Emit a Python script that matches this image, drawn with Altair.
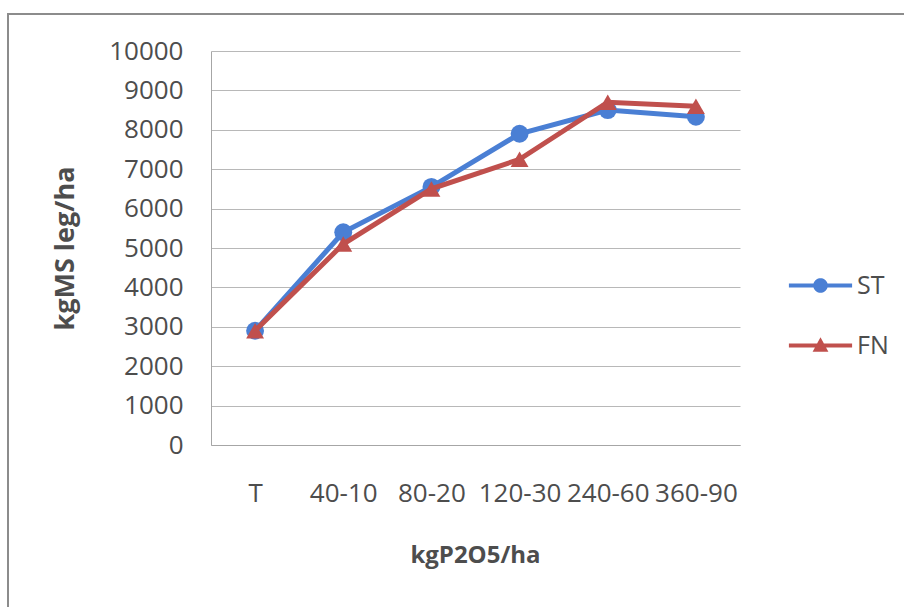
import math
import altair as alt
import pandas as pd

categories = ["T", "40-10", "80-20", "120-30", "240-60", "360-90"]
series_names = ["ST", "FN"]
st_values = [2900, 5400, 6550, 7900, 8500, 8330]
fn_values = [2900, 5100, 6500, 7250, 8700, 8600]
y_ticks = [0, 1000, 2000, 3000, 4000, 5000, 6000, 7000, 8000, 9000, 10000]

BLUE = "#4a7fd4"
RED = "#c0504d"
TXT = "#4d4d4d"
FONT = "Open Sans"

rows = []
for c, v in zip(categories, st_values):
    rows.append({"cat": c, "series": "ST", "value": v})
for c, v in zip(categories, fn_values):
    rows.append({"cat": c, "series": "FN", "value": v})
df = pd.DataFrame(rows)

x_enc = alt.X(
    "cat:N",
    sort=categories,
    scale=alt.Scale(padding=0.5),
    axis=alt.Axis(
        title="kgP2O5/ha",
        labelAngle=0,
        labelFont=FONT,
        labelFontSize=26,
        labelColor=TXT,
        labelPadding=35,
        labelOverlap=False,
        labelBound=False,
        labelFlush=False,
        ticks=False,
        grid=False,
        domainColor="#a6a6a6",
        domainWidth=1,
        titleFont=FONT,
        titleFontSize=24,
        titleFontWeight="bold",
        titleColor=TXT,
        titleX=264,
        titleY=110,
        titleBaseline="middle",
        titleAlign="center",
    ),
)
y_enc = alt.Y(
    "value:Q",
    scale=alt.Scale(domain=[0, 10000], nice=False),
    axis=alt.Axis(
        title="kgMS leg/ha",
        values=y_ticks,
        format="d",
        labelFont=FONT,
        labelFontSize=26,
        labelColor=TXT,
        labelPadding=28,
        ticks=False,
        grid=True,
        gridColor="#b8b8b8",
        gridWidth=1,
        domainColor="#a6a6a6",
        domainWidth=1,
        titleFont=FONT,
        titleFontSize=27,
        titleFontWeight="bold",
        titleColor=TXT,
        titleX=-146,
        titleY=197,
        titleAngle=-90,
        titleBaseline="middle",
        titleAlign="center",
    ),
)

color_scale = alt.Scale(domain=series_names, range=[BLUE, RED])
shape_scale = alt.Scale(domain=series_names, range=["circle", "triangle-up"])

base = alt.Chart(df)
layers = []
for s, size in [("ST", 320), ("FN", 320)]:
    sub = base.transform_filter(alt.datum.series == s)
    layers.append(
        sub.mark_line(strokeWidth=5).encode(
            x=x_enc, y=y_enc,
            color=alt.Color("series:N", scale=color_scale, legend=None),
        )
    )
    layers.append(
        sub.mark_point(filled=True, size=size, opacity=1).encode(
            x=x_enc, y=y_enc,
            color=alt.Color("series:N", scale=color_scale, legend=None),
            shape=alt.Shape("series:N", scale=shape_scale, legend=None),
        )
    )

# legend symbols: line + marker combined paths (unit = sqrt(size)/2 px)
L = 3.2
t = 0.2
r = 0.74
a = math.asin(t / r)
n = 16
top_pts = [
    (r * math.cos(math.pi + a + (math.pi - 2 * a) * i / n),
     r * math.sin(math.pi + a + (math.pi - 2 * a) * i / n))
    for i in range(n + 1)
]
bot_pts = [
    (r * math.cos(a + (math.pi - 2 * a) * i / n),
     r * math.sin(a + (math.pi - 2 * a) * i / n))
    for i in range(n + 1)
]
circle_line = f"M{-L},{-t}" + "".join(f"L{x:.4f},{y:.4f}" for x, y in top_pts)
circle_line += f"L{L},{-t}L{L},{t}" + "".join(f"L{x:.4f},{y:.4f}" for x, y in bot_pts)
circle_line += f"L{-L},{t}Z"

ty, by, hw = -0.84, 0.64, 0.8
def edge(y):
    return hw * (y - ty) / (by - ty)
tri_line = (
    f"M{-L},{-t}L{-edge(-t):.4f},{-t}L0,{ty}L{edge(-t):.4f},{-t}L{L},{-t}L{L},{t}"
    f"L{edge(t):.4f},{t}L{hw},{by}L{-hw},{by}L{-edge(t):.4f},{t}L{-L},{t}Z"
)

def make_legend():
    return alt.Legend(
        title=None,
        orient="none",
        legendX=597,
        legendY=222,
        symbolSize=390,
        symbolStrokeWidth=0,
        labelFont=FONT,
        labelFontSize=25,
        labelColor=TXT,
        labelOffset=24,
        rowPadding=34,
    )

legend_layer = (
    base.transform_filter("false")
    .transform_calculate(lg="datum.series")
    .mark_point(filled=True, opacity=1)
    .encode(
        x=x_enc,
        y=y_enc,
        color=alt.Color(
            "lg:N",
            scale=alt.Scale(domain=series_names, range=[BLUE, RED]),
            legend=make_legend(),
        ),
        shape=alt.Shape(
            "lg:N",
            scale=alt.Scale(domain=series_names, range=[circle_line, tri_line]),
            legend=make_legend(),
        ),
    )
)

frame_df = pd.DataFrame({"k": [0]})
frame_left = alt.Chart(frame_df).mark_rule(color="#8c8c8c", strokeWidth=2).encode(
    x=alt.value(-203), y=alt.value(-37), y2=alt.value(560)
)
frame_top = alt.Chart(frame_df).mark_rule(color="#8c8c8c", strokeWidth=2).encode(
    x=alt.value(-204), x2=alt.value(700), y=alt.value(-37)
)

chart = (
    alt.layer(*layers, legend_layer, frame_left, frame_top)
    .resolve_scale(color="independent", shape="independent")
    .properties(
        width=529,
        height=394,
        autosize=alt.AutoSizeParams(type="none"),
        padding={"left": 211, "top": 51, "right": 164, "bottom": 162},
        background="white",
    )
    .configure_view(stroke=None)
)

chart.save("out.html", embed_options={"renderer": "svg", "actions": False})
